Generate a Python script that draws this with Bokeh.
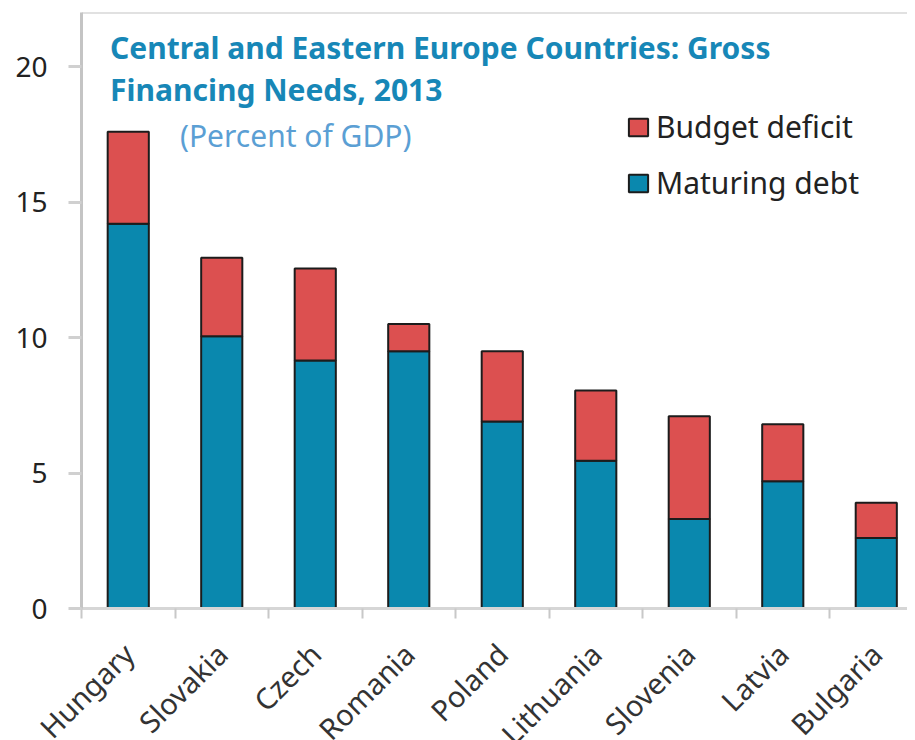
import math
from bokeh.plotting import figure
from bokeh.models import (ColumnDataSource, Range1d, LinearAxis, FixedTicker,
                          Label, Legend, LegendItem, Span)
from bokeh.embed import file_html
from bokeh.resources import INLINE

# ---------------- data ----------------
countries = ["Hungary", "Slovakia", "Czech", "Romania", "Poland",
             "Lithuania", "Slovenia", "Latvia", "Bulgaria"]
maturing_debt = [14.2, 10.05, 9.15, 9.5, 6.9, 5.45, 3.3, 4.7, 2.6]
budget_deficit = [3.4, 2.9, 3.4, 1.0, 2.6, 2.6, 3.8, 2.1, 1.3]
y_ticks = [0, 5, 10, 15, 20]
series_names = ["Budget deficit", "Maturing debt"]
title_lines = ["Central and Eastern Europe Countries: Gross",
               "Financing Needs, 2013"]
subtitle = "(Percent of GDP)"

# ---------------- styles ----------------
RED = "#dc5050"
BLUE = "#0a88ae"
OUTLINE = "#1c1c1c"
TITLE_BLUE = "#1787b7"
SUB_BLUE = "#5b9fd4"
FONT = "Noto Sans"

xpos = [i + 0.5 for i in range(len(countries))]
total = [m + b for m, b in zip(maturing_debt, budget_deficit)]
src = ColumnDataSource(dict(x=xpos, md=maturing_debt, bd=budget_deficit,
                            total=total))

p = figure(frame_width=826, frame_height=596,
           x_range=Range1d(0, 8.834), y_range=Range1d(0, 22),
           output_backend="svg", toolbar_location=None,
           x_axis_type=None, y_axis_type=None,
           min_border_left=81, min_border_top=12, min_border_right=0,
           min_border_bottom=0)
p.grid.visible = False
p.outline_line_color = None
p.background_fill_color = "white"
p.border_fill_color = "white"

# top border of the plot area
p.add_layout(Span(location=22, dimension="width", line_color="#c4c4c4",
                  line_width=2))

r_md = p.vbar(x="x", bottom=0, top="md", width=0.44, source=src,
              fill_color=BLUE, line_color=OUTLINE, line_width=2)
r_bd = p.vbar(x="x", bottom="md", top="total", width=0.44, source=src,
              fill_color=RED, line_color=OUTLINE, line_width=2)

# y axis
yaxis = LinearAxis(ticker=FixedTicker(ticks=y_ticks),
                   axis_line_color="#c4c4c4", axis_line_width=3,
                   major_tick_out=13, major_tick_in=0,
                   major_tick_line_color="#d0d0d0", major_tick_line_width=3,
                   minor_tick_line_color=None,
                   major_label_standoff=21,
                   major_label_text_font=FONT,
                   major_label_text_font_size="28px",
                   major_label_text_color="#222222")
p.add_layout(yaxis, "left")

# x axis
xaxis = LinearAxis(ticker=FixedTicker(ticks=xpos,
                                      minor_ticks=list(range(len(countries) + 1))),
                   major_label_overrides={xv: c for xv, c in zip(xpos, countries)},
                   axis_line_color="#d6d6d6", axis_line_width=3,
                   major_tick_out=0, major_tick_in=0,
                   major_tick_line_color=None,
                   minor_tick_out=10, minor_tick_in=0,
                   minor_tick_line_color="#c8c8c8", minor_tick_line_width=2,
                   major_label_orientation=math.pi / 4,
                   major_label_standoff=30,
                   major_label_text_font=FONT,
                   major_label_text_font_size="29px",
                   major_label_text_color="#333333")
p.add_layout(xaxis, "below")

# title
p.add_layout(Label(x=0.305, y=20.72, text=title_lines[0], text_font=FONT,
                   text_font_style="bold", text_font_size="30px",
                   text_color=TITLE_BLUE, text_baseline="alphabetic"))
p.add_layout(Label(x=0.305, y=19.14, text=title_lines[1], text_font=FONT,
                   text_font_style="bold", text_font_size="30px",
                   text_color=TITLE_BLUE, text_baseline="alphabetic"))
p.add_layout(Label(x=1.053, y=17.47, text=subtitle, text_font=FONT,
                   text_font_size="30px", text_color=SUB_BLUE,
                   text_baseline="alphabetic"))

legend = Legend(items=[LegendItem(label=series_names[0], renderers=[r_bd]),
                       LegendItem(label=series_names[1], renderers=[r_md])],
                location=(545, 405), orientation="vertical",
                background_fill_alpha=0, border_line_color=None,
                padding=0, margin=0, spacing=15,
                glyph_width=24, glyph_height=22, label_standoff=6,
                label_height=30,
                label_text_font=FONT, label_text_font_size="30px",
                label_text_color="#222222")
p.add_layout(legend)

open("out.html", "w").write(file_html(p, INLINE))
